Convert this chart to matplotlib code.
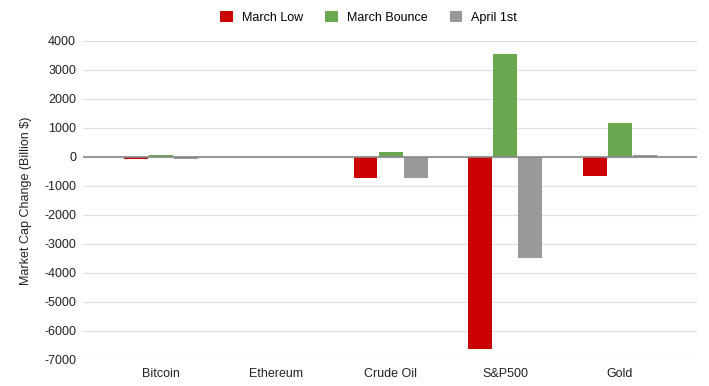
import matplotlib
matplotlib.use("Agg")
import matplotlib.pyplot as plt
import numpy as np

categories = ["Bitcoin", "Ethereum", "Crude Oil", "S&P500", "Gold"]
series_names = ["March Low", "March Bounce", "April 1st"]
march_low = [-80, 0, -710, -6620, -665]
march_bounce = [50, 0, 185, 3560, 1170]
april_1st = [-55, 0, -710, -3470, 80]
colors = ["#cc0000", "#6aa84f", "#999999"]
yticks = list(range(-7000, 4001, 1000))

plt.rcParams['font.family'] = ['Liberation Sans', 'DejaVu Sans']
fig = plt.figure(figsize=(7.09, 3.86), dpi=100)
ax = fig.add_axes([0.117, 0.0674, 0.866, 0.8266])

x = np.arange(len(categories))
step = 0.218
for i, (vals, name, c) in enumerate(zip([march_low, march_bounce, april_1st], series_names, colors)):
    ax.bar(x + (i - 1) * step, vals, width=0.209, color=c, label=name, zorder=3)

ax.set_xlim(-0.68, len(categories) - 0.33)
ax.set_ylim(-7000, 4000)
ax.set_yticks(yticks)
ax.set_yticklabels([str(t) for t in yticks], fontsize=9, color="#222222")
ax.set_xticks(x)
ax.set_xticklabels(categories, fontsize=9, color="#222222")
ax.tick_params(length=0)
ax.tick_params(axis='y', pad=5)
ax.tick_params(axis='x', pad=6)
ax.grid(axis='y', color="#e0e0e0", linewidth=0.9, zorder=0)
ax.axhline(0, color="#888888", linewidth=1.2, zorder=4)
for s in ax.spines.values():
    s.set_visible(False)
ax.set_ylabel("Market Cap Change (Billion $)", fontsize=9, color="#222222", labelpad=9)

leg = fig.legend(loc="upper center", bbox_to_anchor=(0.52, 1.0), ncol=3, frameon=False,
                 fontsize=9, handlelength=1.0, handleheight=1.0, columnspacing=1.8, handletextpad=0.7)

fig.savefig("out.png", dpi=100)
